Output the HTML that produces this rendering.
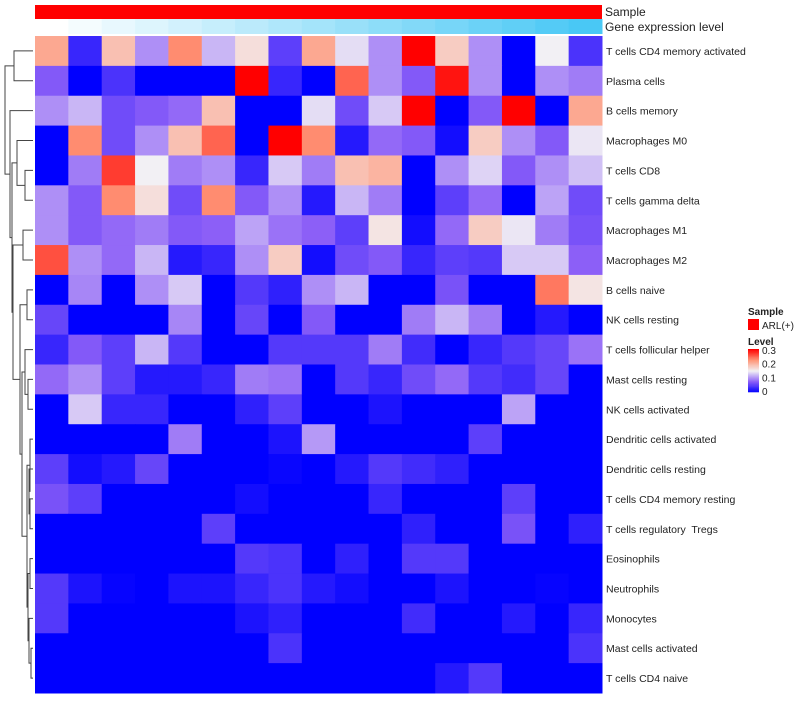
<!DOCTYPE html>
<html><head><meta charset="utf-8"><style>
body{margin:0;background:#fff;font-family:"Liberation Sans",sans-serif}
svg text{font-family:"Liberation Sans",sans-serif;fill:#222;white-space:pre}
</style></head><body>
<svg id="chart" width="800" height="700" xmlns="http://www.w3.org/2000/svg"></svg>
<script>
const rowNames=["T cells CD4 memory activated","Plasma cells","B cells memory","Macrophages M0","T cells CD8","T cells gamma delta","Macrophages M1","Macrophages M2","B cells naive","NK cells resting","T cells follicular helper","Mast cells resting","NK cells activated","Dendritic cells activated","Dendritic cells resting","T cells CD4 memory resting","T cells regulatory  Tregs","Eosinophils","Neutrophils","Monocytes","Mast cells activated","T cells CD4 naive"];
const r01=[0.21,0.03,0.19,0.1,0.23,0.12,0.165,0.05,0.21,0.14,0.1,0.3,0.18,0.1,0,0.15,0.04];
const r02=[0.07,0,0.04,0,0,0,0.3,0.03,0,0.25,0.1,0.07,0.29,0.1,0,0.1,0.09];
const r03=[0.1,0.12,0.06,0.07,0.08,0.19,0,0,0.14,0.06,0.13,0.3,0,0.07,0.3,0,0.21];
const r04=[0,0.23,0.06,0.1,0.19,0.25,0,0.3,0.23,0.02,0.08,0.07,0.01,0.18,0.1,0.07,0.145];
const r05=[0,0.09,0.27,0.15,0.09,0.1,0.03,0.13,0.09,0.19,0.2,0,0.1,0.135,0.07,0.1,0.125];
const r06=[0.1,0.07,0.23,0.165,0.06,0.23,0.07,0.1,0.02,0.12,0.09,0,0.05,0.08,0,0.11,0.06];
const r07=[0.1,0.07,0.08,0.09,0.07,0.075,0.11,0.085,0.075,0.05,0.16,0.01,0.08,0.18,0.145,0.09,0.065];
const r08=[0.26,0.1,0.08,0.12,0.02,0.03,0.1,0.18,0.01,0.06,0.07,0.03,0.05,0.045,0.13,0.13,0.075];
const r09=[0,0.095,0,0.1,0.13,0,0.045,0.025,0.1,0.12,0,0,0.065,0,0,0.24,0.16];
const r10=[0.055,0,0,0,0.095,0,0.055,0,0.07,0,0,0.09,0.12,0.09,0,0.02,0];
const r11=[0.03,0.07,0.05,0.12,0.045,0,0,0.045,0.045,0.045,0.09,0.035,0,0.03,0.045,0.055,0.085];
const r12=[0.08,0.1,0.05,0.02,0.02,0.03,0.09,0.085,0,0.045,0.03,0.06,0.08,0.045,0.035,0.055,0];
const r13=[0,0.13,0.03,0.03,0,0,0.025,0.05,0,0,0.015,0,0,0,0.11,0,0];
const r14=[0,0,0,0,0.09,0,0,0.015,0.105,0,0,0,0,0.05,0,0,0];
const r15=[0.05,0.01,0.02,0.055,0,0,0,0.005,0,0.02,0.045,0.035,0.025,0,0,0,0];
const r16=[0.065,0.05,0,0,0,0,0.01,0,0,0,0.03,0,0,0,0.05,0,0];
const r17=[0,0,0,0,0,0.05,0,0,0,0,0,0.025,0,0,0.065,0,0.025];
const r18=[0,0,0,0,0,0,0.045,0.04,0,0.025,0,0.045,0.045,0,0,0,0];
const r19=[0.045,0.015,0.003,0,0.015,0.015,0.03,0.04,0.02,0.01,0,0,0.015,0,0,0.003,0];
const r20=[0.045,0,0,0,0,0,0.015,0.025,0,0,0,0.035,0,0,0.02,0,0.03];
const r21=[0,0,0,0,0,0,0,0.04,0,0,0,0,0,0,0,0,0.04];
const r22=[0,0,0,0,0,0,0,0,0,0,0,0,0.02,0.045,0,0,0];
const values=[r01,r02,r03,r04,r05,r06,r07,r08,r09,r10,r11,r12,r13,r14,r15,r16,r17,r18,r19,r20,r21,r22];
const geneLevel=[0,1,2,3,4,5,6,7,8,9,10,11,12,13,14,15,16];
const legendTicks=[0,0.1,0.2,0.3];

const NS="http://www.w3.org/2000/svg";
const svg=document.getElementById('chart');
function mk(t,a){const e=document.createElementNS(NS,t);for(const k in a)e.setAttribute(k,a[k]);svg.appendChild(e);return e;}
const X0=35,X1=602,Y0=36,Y1=693;
const nC=values[0].length,nR=values.length;
const cw=(X1-X0)/nC,rh=(Y1-Y0)/nR;
const xs=c=>X0+c*cw, ys=r=>Y0+r*rh;
const stops=[[0,[0,0,255]],[0.075,[140,95,247]],[0.15,[242,240,244]],[0.225,[255,150,120]],[0.3,[255,0,0]]];
function col(v){v=Math.max(0,Math.min(0.3,v));for(let i=1;i<stops.length;i++){if(v<=stops[i][0]){const a=stops[i-1],b=stops[i];const t=(v-a[0])/(b[0]-a[0]);const c=a[1].map((x,j)=>Math.round(x+(b[1][j]-x)*t));return `rgb(${c})`;}}return 'rgb(255,0,0)';}

let e=mk('rect',{x:X0,y:5,width:X1-X0,height:14,fill:'#ff0000'});


geneLevel.forEach((g,c)=>{const t=g/(geneLevel.length-1);const r=Math.round(255+(73-255)*t),gg=Math.round(255+(200-255)*t),b=Math.round(255+(245-255)*t);
 const el=mk('rect',{x:xs(c),y:19,width:cw+0.5,height:15,fill:`rgb(${r},${gg},${b})`});
 
 });
e=mk('text',{x:605,y:16,'font-size':12});e.textContent='Sample';


e=mk('text',{x:605,y:31,'font-size':12});e.textContent='Gene expression level';



values.forEach((row,r)=>row.forEach((v,c)=>{
 const el=mk('rect',{x:xs(c),y:ys(r),width:cw+0.5,height:rh+0.5,fill:col(v)});
 
 
}));
rowNames.forEach((n,r)=>{const el=mk('text',{x:606,y:ys(r)+rh/2+4,'font-size':10.5});el.textContent=n;
 
 });

const L=i=>({leaf:i});
const N=(h,a,b)=>({h,a,b});
const tree=N(5,N(14,L(0),L(1)),N(10,L(2),N(12,N(17,L(3),N(25,L(4),L(5))),N(13,N(23,L(6),L(7)),N(20,N(27,L(8),L(9)),N(22,N(25,L(10),N(28,L(11),L(12))),N(27,N(30,L(13),N(29,L(14),N(30,L(15),L(16)))),N(28,N(30,L(17),L(18)),N(29,L(19),N(31,L(20),L(21)))))))))));
function draw(n){if(n.leaf!==undefined)return{x:33,y:ys(n.leaf)+rh/2};
 const a=draw(n.a),b=draw(n.b);
 const p=mk('path',{d:`M${a.x},${a.y}H${n.h}V${b.y}H${b.x}`,fill:'none',stroke:'#444','stroke-width':1});
 
 
 return{x:n.h,y:(a.y+b.y)/2};}
draw(tree);

e=mk('text',{x:748,y:315,'font-size':10,'font-weight':'bold'});e.textContent='Sample';


e=mk('rect',{x:748,y:319,width:11,height:11,fill:'#ff0000'});


e=mk('text',{x:762,y:329,'font-size':10});e.textContent='ARL(+)';


e=mk('text',{x:748,y:345,'font-size':10,'font-weight':'bold'});e.textContent='Level';


const lb0=349,lb1=392;
for(let i=0;i<40;i++){const v=0.3*(1-i/40);const el=mk('rect',{x:748,y:lb0+i*(lb1-lb0)/40,width:11,height:(lb1-lb0)/40+0.3,fill:col(v)});
 
 }
legendTicks.forEach(t=>{const y=lb1-(t/0.3)*(lb1-lb0-2)-1;
 const el=mk('text',{x:762,y:y+4,'font-size':10});el.textContent=String(t);
 
 });
</script>
</body></html>
